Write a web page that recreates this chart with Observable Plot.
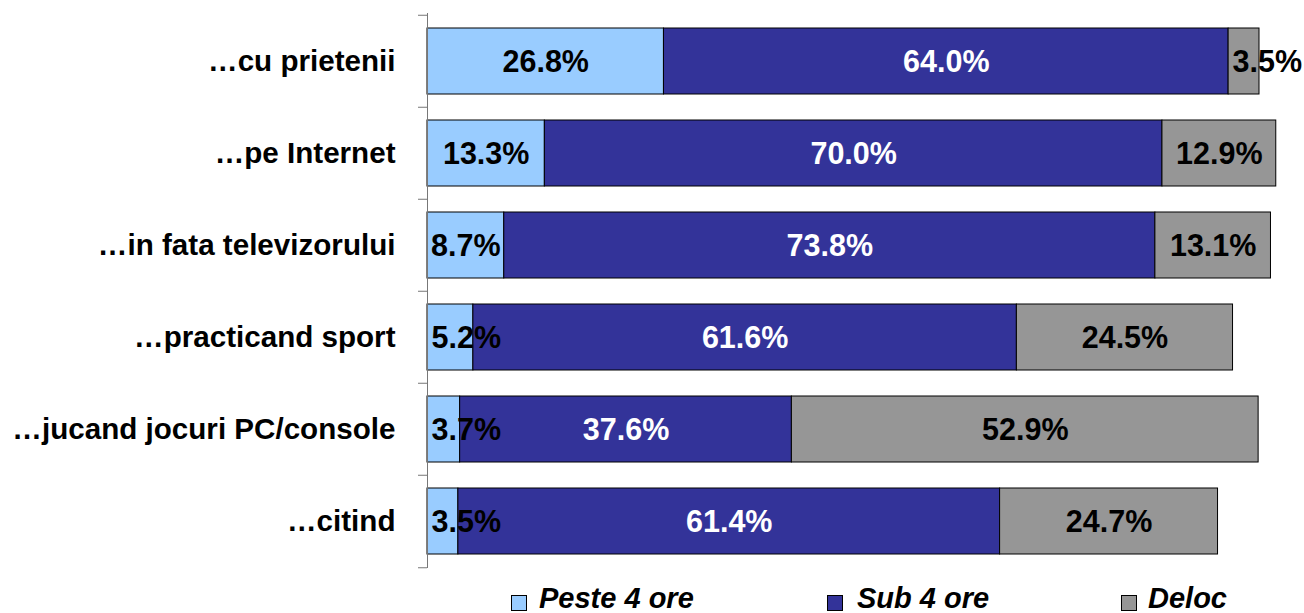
<!DOCTYPE html>
<html>
<head>
<meta charset="utf-8">
<script src="https://cdn.jsdelivr.net/npm/d3@7"></script>
<script src="https://cdn.jsdelivr.net/npm/@observablehq/plot@0.6"></script>
<style>
  html, body { margin: 0; padding: 0; background: #fff; }
  #wrap { position: relative; width: 1304px; height: 613px; overflow: hidden; font-family: "Liberation Sans", Arial, sans-serif; }
  #legend { position: absolute; left: 0; top: 580px; width: 1304px; height: 33px; }
  .sw { position: absolute; top: 15px; width: 14px; height: 14px; border: 1px solid #000; box-sizing: content-box; }
  .lab { position: absolute; top: 5px; font-size: 29px; font-weight: bold; font-style: italic; white-space: nowrap; line-height: 27px; }
</style>
</head>
<body>
<div id="wrap"><div id="chart"></div><div id="legend"></div></div>
<script>
const categories = ["…cu prietenii", "…pe Internet", "…in fata televizorului", "…practicand sport", "…jucand jocuri PC/console", "…citind"];
const seriesNames = ["Peste 4 ore", "Sub 4 ore", "Deloc"];
const peste = [26.8, 13.3, 8.7, 5.2, 3.7, 3.5];
const sub = [64.0, 70.0, 73.8, 61.6, 37.6, 61.4];
const deloc = [3.5, 12.9, 13.1, 24.5, 52.9, 24.7];
const colors = ["#99CCFF", "#333399", "#969696"];
const textColors = ["#000000", "#FFFFFF", "#000000"];

const values = [peste, sub, deloc];
const rows = [];
categories.forEach((cat, i) => {
  let acc = 0;
  values.forEach((arr, s) => {
    const v = arr[i];
    rows.push({cat, series: seriesNames[s], s, value: v, x1: acc, x2: acc + v, small: v < 8});
    acc += v;
  });
});

const W = 1304, H = 580, mt = 13, mb = 12, ml = 427;
const step = (H - mt - mb) / categories.length;

const chart = Plot.plot({
  width: W,
  height: H,
  marginTop: mt,
  marginBottom: mb,
  marginLeft: ml,
  marginRight: 0,
  style: {fontFamily: "'Liberation Sans', Arial, sans-serif", fontSize: "29px", fontWeight: "bold", background: "#fff", color: "#000"},
  x: {domain: [0, 99.4], axis: null},
  y: {domain: categories, paddingInner: 0.287, paddingOuter: 0.1435, axis: null},
  color: {domain: seriesNames, range: colors},
  marks: [
    Plot.barX(rows, {y: "cat", x1: "x1", x2: "x2", fill: "series", stroke: "#000", strokeWidth: 1}),
    Plot.text(rows.filter(d => !d.small), {y: "cat", x: d => (d.x1 + d.x2) / 2, text: d => d.value.toFixed(1) + "%", fill: d => textColors[d.s], fontSize: 30.5, fontWeight: "bold", dy: 1}),
    Plot.text(rows.filter(d => d.small), {y: "cat", x: "x1", text: d => d.value.toFixed(1) + "%", fill: d => textColors[d.s], textAnchor: "start", dx: 4, fontSize: 30.5, fontWeight: "bold", dy: 1}),
    Plot.ruleX([0], {stroke: "#777", strokeWidth: 1}),
    Plot.axisY({tickSize: 0, tickPadding: 32, fontSize: 29.6, fontWeight: "bold", label: null}),
    Plot.axisY({tickSize: 9, text: null, label: null, stroke: "#777", dy: -step / 2}),
    Plot.axisY({ticks: [categories[categories.length - 1]], tickSize: 9, text: null, label: null, stroke: "#777", dy: step / 2})
  ]
});
document.getElementById("chart").appendChild(chart);

const legendPos = [[511, 539], [827, 857], [1121, 1148]];
const legend = document.getElementById("legend");
seriesNames.forEach((name, i) => {
  const sw = document.createElement("div");
  sw.className = "sw";
  sw.style.left = legendPos[i][0] + "px";
  sw.style.background = colors[i];
  legend.appendChild(sw);
  const lab = document.createElement("div");
  lab.className = "lab";
  lab.style.left = legendPos[i][1] + "px";
  lab.textContent = name;
  legend.appendChild(lab);
});
</script>
</body>
</html>
